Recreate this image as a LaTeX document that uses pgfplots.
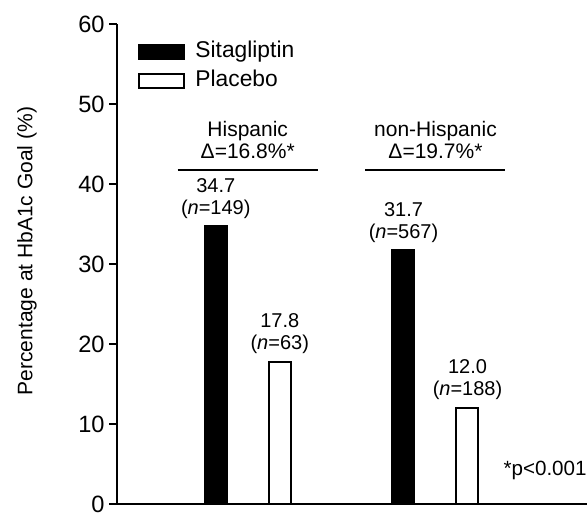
\documentclass[border=0pt]{standalone}
\usepackage{fontspec}
\setmainfont{Liberation Sans}
\usepackage{pgfplots}
\pgfplotsset{compat=1.18}
\begin{document}
\begin{tikzpicture}
\begin{axis}[
  name=ax, at={(0,0)}, anchor=south west,
  scale only axis, width=235pt, height=240pt,
  xmin=0.3036, xmax=2.807, ymin=0, ymax=60,
  axis lines*=left, axis line style={line width=1pt},
  xtick=\empty, ytick={0,10,...,60},
  ytick pos=left, tick align=outside, major tick length=4pt,
  tick style={line width=1pt, black},
  /pgf/number format/assume math mode=true,
  yticklabel style={font=\fontsize{11.8}{14}\selectfont, inner sep=2pt},
  ylabel={Percentage at HbA1c Goal (\%)},
  ylabel style={font=\fontsize{10.5}{12}\selectfont, at={(axis description cs:-0.1915,0.527)}, anchor=center},
  ybar, bar width=11pt,
  clip=false,
  legend cell align=left,
  legend style={at={(axis description cs:0.0447,0.970)}, anchor=north west, draw=none, fill=none, inner sep=0pt, row sep=1.5pt, column sep=4pt,
    font=\fontsize{11.4}{13}\selectfont, nodes={inner sep=1pt, text height=8.5pt, text depth=2.5pt}},
  legend image code/.code={\draw[#1, line width=1pt] (0pt,-3.5pt) rectangle (22.5pt,3.5pt);},
  nodes near coords style={align=center, font=\fontsize{10}{11}\selectfont, anchor=south, inner sep=0pt, yshift=3.5pt, text=black},
]
\addplot[fill=black, draw=black, line width=1pt, bar shift=-16pt, point meta=explicit symbolic, nodes near coords]
  coordinates {(1,34.7) [34.7\\(\textit{n}=149)] (2,31.7) [31.7\\(\textit{n}=567)]};
\addlegendentry{Sitagliptin}
\addplot[fill=white, draw=black, line width=1pt, bar shift=16pt, point meta=explicit symbolic, nodes near coords]
  coordinates {(1,17.8) [17.8\\(\textit{n}=63)] (2,12.0) [12.0\\(\textit{n}=188)]};
\addlegendentry{Placebo}
\draw[line width=1pt] ([xshift=-35pt]axis cs:1,41.75) -- ([xshift=35pt]axis cs:1,41.75);
\draw[line width=1pt] ([xshift=-35pt]axis cs:2,41.75) -- ([xshift=35pt]axis cs:2,41.75);
\node[align=center, anchor=south, inner sep=0pt, font=\fontsize{10.5}{11}\selectfont] at ([yshift=5.5pt]axis cs:1,41.75) {Hispanic\\Δ=16.8\%*};
\node[align=center, anchor=south, inner sep=0pt, font=\fontsize{10.5}{11}\selectfont] at ([yshift=5.5pt]axis cs:2,41.75) {non-Hispanic\\Δ=19.7\%*};
\node[anchor=east, inner sep=0pt, font=\fontsize{10.3}{12}\selectfont] at (axis cs:2.807,4.25) {*p<0.001};
\end{axis}
\pgfresetboundingbox
\path[use as bounding box] ([shift={(-58.5pt,-5pt)}]ax.south west) rectangle ([shift={(235pt,252pt)}]ax.south west);
\end{tikzpicture}
\end{document}
